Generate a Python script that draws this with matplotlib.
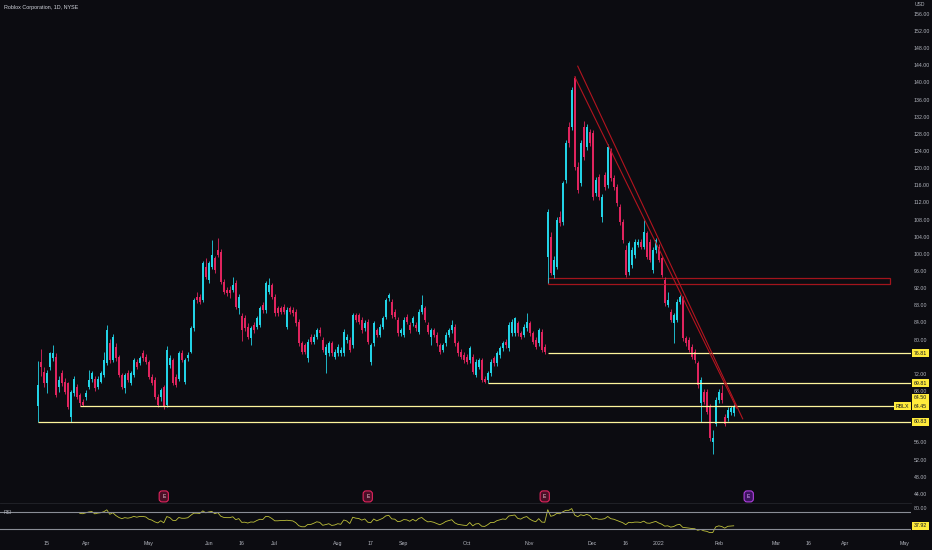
import numpy as np
import pandas as pd
import matplotlib
matplotlib.use('Agg')
import matplotlib.pyplot as plt
from matplotlib import font_manager
from matplotlib.patches import Rectangle
from matplotlib.transforms import blended_transform_factory

plt.rcParams['font.family'] = ['Liberation Sans', 'DejaVu Sans']

# daily candles, 2021-03-10 .. 2022-02-08 (one row of ten bars per line)
opens = [
    64.5, 74.8, 72.5, 69.8, 73.7, 75.6, 76.0, 69.0, 72.1, 70.2,
    69.8, 62.0, 67.5, 69.0, 67.1, 65.5, 66.7, 69.0, 70.9, 70.9,
    69.0, 70.2, 71.7, 74.5, 79.1, 75.2, 78.3, 76.0, 71.7, 68.6,
    72.1, 69.8, 71.7, 74.8, 74.5, 76.8, 76.0, 74.8, 71.3, 70.6,
    66.7, 66.7, 69.0, 64.7, 74.1, 75.2, 71.3, 70.9, 76.8, 70.2,
    75.6, 77.2, 82.6, 90.0, 90.0, 89.2, 97.0, 93.9, 97.0, 99.0,
    100.9, 100.5, 93.5, 91.6, 91.6, 91.6, 93.1, 87.3, 85.4, 85.0,
    83.0, 80.3, 83.4, 83.0, 83.4, 88.1, 86.9, 91.2, 92.7, 90.0,
    87.3, 87.3, 87.7, 83.0, 87.3, 86.9, 86.5, 84.2, 79.1, 78.7,
    75.6, 80.7, 79.5, 80.7, 82.2, 79.9, 76.4, 76.8, 79.1, 76.0,
    76.8, 76.8, 76.8, 79.9, 79.9, 78.7, 85.7, 85.7, 84.6, 82.6,
    84.2, 74.8, 79.1, 82.2, 81.1, 83.0, 85.3, 89.6, 88.8, 86.5,
    84.6, 81.5, 81.1, 85.3, 83.4, 83.8, 83.4, 81.8, 86.5, 87.3,
    83.4, 80.7, 82.2, 81.1, 78.7, 77.6, 79.1, 81.1, 82.2, 83.0,
    79.1, 77.2, 76.4, 76.0, 75.2, 76.0, 71.7, 73.7, 75.2, 70.9,
    70.6, 72.1, 75.6, 74.5, 76.4, 78.0, 79.5, 78.0, 81.5, 81.5,
    83.8, 81.5, 81.1, 82.6, 83.8, 81.5, 79.9, 79.1, 81.8, 78.3,
    99.3, 104.0, 95.1, 97.0, 108.7, 107.5, 117.2, 129.7, 129.7, 141.0,
    120.3, 116.5, 129.7, 125.0, 128.5, 128.1, 114.1, 118.0, 108.7, 118.4,
    116.1, 123.9, 117.6, 115.7, 111.0, 107.5, 101.0, 95.8, 97.4, 99.7,
    102.1, 102.8, 101.7, 104.8, 102.8, 96.2, 100.9, 101.7, 99.0, 93.9,
    88.1, 86.5, 83.8, 84.6, 88.8, 89.6, 80.3, 79.9, 78.3, 77.2,
    74.5, 65.1, 67.8, 67.8, 64.3, 56.0, 60.4, 65.9, 67.5, 62.0,
    61.6, 63.2, 62.8,
]
highs = [
    75.0, 77.9, 73.5, 72.8, 77.2, 78.7, 76.9, 71.6, 72.9, 71.0,
    70.1, 68.3, 71.5, 69.6, 67.6, 66.2, 68.2, 72.9, 72.6, 71.4,
    71.5, 72.6, 77.2, 83.4, 80.2, 81.4, 79.1, 76.5, 72.3, 72.2,
    72.8, 72.6, 75.7, 75.4, 76.1, 77.6, 76.6, 75.3, 71.9, 71.2,
    67.3, 68.8, 69.5, 78.4, 76.3, 75.8, 71.9, 77.3, 77.6, 75.7,
    77.0, 83.1, 89.8, 91.2, 90.6, 98.4, 99.0, 98.4, 103.2, 99.6,
    103.6, 101.1, 94.1, 92.3, 92.6, 94.7, 93.8, 90.6, 86.2, 85.8,
    83.8, 83.2, 84.2, 85.6, 87.9, 88.7, 93.7, 94.3, 93.3, 90.6,
    87.9, 87.9, 88.3, 87.5, 87.9, 87.5, 87.1, 84.8, 79.7, 79.3,
    80.1, 81.3, 81.3, 82.8, 82.9, 80.5, 78.9, 79.7, 79.7, 77.8,
    78.9, 78.2, 82.4, 81.3, 80.5, 86.3, 86.3, 86.3, 85.2, 84.6,
    84.8, 79.3, 84.4, 82.8, 83.6, 85.6, 89.8, 90.8, 89.4, 87.1,
    85.2, 82.8, 85.2, 85.9, 84.0, 85.6, 84.0, 87.1, 90.4, 87.9,
    84.0, 82.8, 82.8, 81.7, 79.3, 79.3, 81.7, 82.8, 84.6, 83.6,
    79.7, 77.8, 77.0, 76.6, 78.5, 76.6, 75.4, 75.8, 75.8, 71.5,
    72.7, 75.4, 76.2, 77.4, 78.5, 79.7, 80.1, 84.0, 84.8, 85.3,
    84.4, 82.1, 83.6, 86.1, 84.4, 82.1, 80.5, 82.8, 82.4, 78.9,
    110.5, 105.0, 99.4, 108.6, 110.0, 117.0, 126.5, 130.8, 138.9, 141.6,
    121.5, 126.5, 131.0, 130.4, 129.2, 129.0, 117.9, 118.7, 114.0, 119.1,
    125.7, 124.6, 118.3, 116.4, 111.7, 108.2, 102.0, 103.0, 101.5, 103.4,
    103.4, 103.4, 107.9, 105.4, 103.4, 101.5, 103.8, 102.3, 99.6, 94.5,
    91.0, 87.1, 86.3, 89.4, 90.4, 90.2, 80.9, 80.5, 78.9, 77.8,
    75.1, 71.2, 68.4, 68.4, 64.9, 59.0, 66.5, 68.4, 69.5, 62.6,
    64.2, 64.6, 65.0,
]
lows = [
    60.8, 71.5, 69.0, 67.5, 72.8, 74.9, 66.5, 67.8, 69.2, 67.2,
    63.8, 60.8, 66.9, 66.2, 64.6, 64.5, 65.8, 68.5, 70.2, 68.1,
    68.4, 69.8, 71.2, 74.0, 74.6, 74.8, 75.1, 71.2, 68.5, 67.5,
    70.1, 69.3, 71.2, 73.2, 74.0, 75.1, 74.3, 70.8, 69.3, 66.2,
    64.2, 65.6, 63.8, 64.2, 73.4, 69.3, 68.9, 70.4, 74.7, 69.6,
    75.0, 76.8, 82.0, 88.6, 88.2, 88.7, 94.1, 93.3, 96.5, 95.6,
    99.2, 93.0, 90.6, 90.2, 89.6, 91.0, 87.1, 86.0, 79.6, 82.0,
    80.1, 78.7, 81.6, 82.4, 82.9, 86.3, 86.3, 90.6, 89.4, 85.5,
    85.5, 85.9, 85.9, 82.4, 85.9, 85.5, 83.2, 78.5, 76.6, 76.6,
    74.8, 78.9, 78.9, 80.1, 80.9, 77.0, 72.1, 76.2, 76.2, 75.4,
    76.2, 76.2, 76.2, 79.3, 77.0, 78.1, 84.0, 83.6, 81.6, 82.0,
    78.9, 74.1, 78.5, 80.5, 80.5, 82.4, 84.7, 89.0, 85.1, 84.7,
    80.9, 80.9, 80.5, 83.6, 81.6, 83.2, 82.0, 81.2, 85.9, 84.0,
    81.2, 78.7, 80.5, 78.5, 76.6, 77.0, 78.5, 80.5, 81.6, 78.5,
    76.2, 75.4, 74.6, 74.2, 74.6, 71.9, 71.3, 73.1, 70.0, 69.8,
    69.8, 71.5, 73.9, 73.9, 75.8, 77.4, 78.1, 77.4, 80.9, 80.9,
    80.9, 80.1, 80.5, 82.0, 80.9, 78.9, 77.7, 78.5, 77.0, 76.6,
    93.3, 95.0, 94.4, 96.4, 106.4, 106.8, 116.6, 125.0, 129.0, 119.6,
    114.2, 115.8, 122.0, 124.3, 125.1, 112.6, 113.4, 112.6, 107.5, 115.0,
    115.4, 116.9, 115.0, 111.1, 106.8, 102.5, 94.7, 95.1, 96.8, 99.1,
    101.5, 101.1, 101.1, 98.7, 98.0, 95.6, 100.3, 98.0, 94.5, 87.9,
    87.5, 84.0, 79.1, 84.0, 88.2, 79.7, 78.5, 77.0, 75.4, 74.6,
    68.8, 60.8, 64.9, 62.6, 56.4, 53.4, 59.8, 65.3, 65.3, 59.8,
    61.0, 62.4, 62.2,
]
closes = [
    69.4, 73.7, 69.8, 72.1, 76.8, 76.8, 67.1, 70.6, 69.8, 67.8,
    64.3, 67.8, 70.9, 66.7, 65.1, 64.7, 67.5, 70.6, 72.1, 68.6,
    70.9, 72.1, 75.2, 82.2, 75.2, 80.7, 75.6, 71.7, 69.0, 71.7,
    70.6, 72.1, 75.2, 73.7, 75.6, 75.6, 74.8, 71.3, 69.8, 66.7,
    64.7, 68.2, 64.3, 77.6, 75.6, 69.8, 69.4, 76.8, 75.2, 75.2,
    76.4, 82.6, 89.2, 89.2, 88.8, 97.8, 94.7, 97.8, 99.7, 96.2,
    99.7, 93.5, 91.2, 90.8, 90.8, 92.7, 87.7, 90.0, 82.2, 82.6,
    80.7, 82.6, 82.2, 85.0, 87.3, 86.9, 93.1, 92.7, 90.0, 86.1,
    86.1, 86.5, 86.5, 86.9, 86.5, 86.1, 83.8, 79.1, 77.2, 77.2,
    79.5, 79.5, 80.7, 82.2, 81.5, 77.6, 78.3, 79.1, 76.8, 77.2,
    78.3, 77.6, 81.8, 80.7, 77.6, 85.7, 84.6, 84.2, 82.2, 83.8,
    79.5, 78.7, 83.8, 81.1, 83.0, 85.0, 89.2, 90.4, 85.7, 85.3,
    81.5, 82.2, 84.6, 84.2, 82.2, 85.0, 82.6, 86.5, 88.1, 84.6,
    81.8, 82.2, 81.1, 79.1, 77.2, 78.7, 81.1, 82.2, 83.4, 79.1,
    76.8, 76.0, 75.2, 74.8, 78.0, 72.5, 74.8, 75.2, 70.6, 70.2,
    72.1, 74.8, 74.5, 76.8, 78.0, 79.1, 78.7, 83.4, 84.2, 85.0,
    81.5, 80.7, 83.0, 84.2, 81.5, 79.5, 78.3, 82.2, 77.6, 77.2,
    109.8, 95.5, 98.6, 107.9, 107.1, 116.5, 125.8, 125.8, 138.2, 120.3,
    114.9, 125.8, 122.7, 129.7, 125.8, 113.3, 117.2, 113.3, 113.3, 115.7,
    125.0, 117.6, 115.7, 111.8, 107.5, 103.2, 95.0, 102.5, 100.9, 102.8,
    102.8, 101.7, 105.2, 99.3, 98.6, 100.9, 103.2, 98.6, 95.1, 88.5,
    89.2, 84.6, 85.7, 88.8, 90.0, 80.3, 79.1, 77.6, 76.0, 75.2,
    69.4, 70.6, 65.5, 63.2, 57.0, 57.1, 65.9, 67.8, 65.9, 60.4,
    63.6, 64.0, 64.45,
]

holidays = ['2021-04-02', '2021-05-31', '2021-07-05', '2021-09-06', '2021-11-25',
            '2021-12-24', '2022-01-17', '2022-02-21', '2022-04-15']
tick_dates = ['2021-03-15', '2021-04-01', '2021-05-03', '2021-06-01', '2021-06-16',
              '2021-07-01', '2021-08-02', '2021-08-17', '2021-09-01', '2021-10-01',
              '2021-11-01', '2021-12-01', '2021-12-16', '2022-01-03', '2022-02-01',
              '2022-03-01', '2022-03-16', '2022-04-01', '2022-05-02']
tick_labels = ['15', 'Apr', 'May', 'Jun', '16', 'Jul', 'Aug', '17', 'Sep', 'Oct',
               'Nov', 'Dec', '16', '2022', 'Feb', 'Mar', '16', 'Apr', 'May']
earnings_dates = ['2021-05-10', '2021-08-16', '2021-11-08', '2022-02-15']

# drawn levels
level_prices = [76.81, 69.81, 64.50, 60.83]
level_starts = ['2021-11-09', '2021-10-12', '2021-03-30', '2021-03-10']
zone_dates = ['2021-11-09', '2022-04-25']
zone_prices = [92.9, 94.3]
trend_outer = [('2021-11-23', 143.8), ('2022-02-11', 61.5)]
trend_inner = [('2021-11-22', 141.3), ('2022-02-09', 64.0)]
rsi_last = 37.92

assert len(opens) == len(highs) == len(lows) == len(closes) == 233

dates = pd.bdate_range('2021-03-10', '2022-06-30', freq='C', holidays=holidays)
def pos(d):
    return dates.get_loc(pd.Timestamp(d))

# axis labels: narrow face if the system has one
installed = {f.name for f in font_manager.fontManager.ttflist}
if 'Liberation Sans Narrow' in installed:
    AX_FONT, FS = 'Liberation Sans Narrow', 4.5
else:
    AX_FONT, FS = 'Liberation Sans', 3.8

BG = '#0c0c11'
UP = '#22d3e6'
DOWN = '#e0245e'
YEL = '#fff59d'
TXT = '#b2b5be'

W, H = 932, 550
fig = plt.figure(figsize=(W / 100, H / 100), dpi=100, facecolor=BG)
ax = fig.add_axes([0, 47 / H, 911 / W, 503 / H], facecolor=BG)
ax_rsi = fig.add_axes([0, 13 / H, 911 / W, 34 / H], facecolor=BG)

XMIN, XMAX = -12.6, 291.1
o = np.array(opens); h = np.array(highs); l = np.array(lows); c = np.array(closes)
x = np.arange(len(c))
cols = np.where(c >= o, UP, DOWN)

# candles
ax.vlines(x, l, h, colors=cols, lw=0.6)
body = np.maximum(np.abs(c - o), 0.15)
ax.bar(x, body, bottom=np.minimum(o, c), width=0.62, color=cols, linewidth=0)

# horizontal levels
for p, s in zip(level_prices, level_starts):
    ax.hlines(p, pos(s), XMAX, color=YEL, lw=0.9)

ax.add_patch(Rectangle((pos(zone_dates[0]), zone_prices[0]),
                       pos(zone_dates[1]) - pos(zone_dates[0]),
                       zone_prices[1] - zone_prices[0],
                       fill=False, ec='#a3141c', lw=0.9))
for tl in (trend_outer, trend_inner):
    ax.plot([pos(tl[0][0]), pos(tl[1][0])], [tl[0][1], tl[1][1]],
            color='#b3141f', lw=0.8)

# earnings badges
for i, d in enumerate(earnings_dates):
    last = i == len(earnings_dates) - 1
    ax.text(pos(d), 43.4, 'E', fontsize=3.6, color='#f0d0dc' if not last else '#e0b0ff',
            ha='center', va='center',
            bbox=dict(boxstyle='round,pad=0.6', fc='#4a0f26' if not last else '#3d1260',
                      ec='#e0245e' if not last else '#b040e0', lw=0.8))

ax.set_xlim(XMIN, XMAX)
ax.set_ylim(41.86, 159.24)
ax.set_xticks([])
ax.yaxis.tick_right()
yt = [v for v in range(44, 157, 4) if v not in (60, 64, 76)]
ax.set_yticks(yt)
ax.set_yticklabels([f'{v:.2f}' for v in yt], fontfamily=AX_FONT)
ax.tick_params(axis='y', length=0, pad=2, labelsize=FS, colors=TXT)
for sp in ax.spines.values():
    sp.set_visible(False)

trans = blended_transform_factory(ax.transAxes, ax.transData)
ybox = dict(boxstyle='square,pad=0.3', fc='#ffeb3b', ec='none')
label_pos = [(76.81, '76.81'), (69.81, '69.81'), (66.4, '64.50'), (64.45, '64.45'), (60.83, '60.83')]
for p, t in label_pos:
    ax.text(1 + 3 / 911, p, t, transform=trans, fontsize=FS, fontfamily=AX_FONT,
            color='#131722', ha='left', va='center', bbox=ybox, clip_on=False)
ax.text(1 - 2 / 911, 64.45, 'RBLX', transform=trans, fontsize=FS, fontfamily=AX_FONT,
        color='#131722', ha='right', va='center', bbox=ybox, clip_on=False)

fig.text(4 / W, 1 - 7 / H, 'Roblox Corporation, 1D, NYSE', fontsize=3.9, color='#d1d4dc',
         ha='left', va='center')
fig.text(920 / W, 1 - 5 / H, 'USD', fontsize=3.6, fontfamily=AX_FONT, color=TXT,
         ha='center', va='center')

# RSI pane
s = pd.Series(closes)
diff = s.diff()
gain = diff.clip(lower=0).ewm(alpha=1 / 14, adjust=False, min_periods=14).mean()
loss = (-diff.clip(upper=0)).ewm(alpha=1 / 14, adjust=False, min_periods=14).mean()
rsi = 100 - 100 / (1 + gain / loss)

ax_rsi.plot(x, rsi, color='#bdbf3a', lw=0.6)
ax_rsi.axhline(70, color='#8a8d96', lw=0.8)
ax_rsi.axhline(30, color='#8a8d96', lw=0.8)
ax_rsi.set_xlim(XMIN, XMAX)
ax_rsi.set_ylim(11.2, 91.2)
ax_rsi.yaxis.tick_right()
ax_rsi.set_yticks([80])
ax_rsi.set_yticklabels(['80.00'], fontfamily=AX_FONT)
ax_rsi.tick_params(axis='y', length=0, pad=2, labelsize=FS, colors=TXT)
ax_rsi.set_xticks([pos(d) for d in tick_dates])
ax_rsi.set_xticklabels(tick_labels, fontfamily=AX_FONT)
ax_rsi.tick_params(axis='x', length=0, pad=3, labelsize=FS, colors=TXT)
for sp in ax_rsi.spines.values():
    sp.set_visible(False)
ax_rsi.spines['top'].set_visible(True)
ax_rsi.spines['top'].set_color('#23242b')
ax_rsi.spines['top'].set_linewidth(0.6)
ax_rsi.text(0.004, 0.72, 'RSI', transform=ax_rsi.transAxes, fontsize=3.6, color=TXT,
            fontfamily=AX_FONT, ha='left', va='center')
rtrans = blended_transform_factory(ax_rsi.transAxes, ax_rsi.transData)
ax_rsi.text(1 + 3 / 911, rsi_last, f'{rsi_last:.2f}', transform=rtrans, fontsize=FS,
            fontfamily=AX_FONT, color='#131722', ha='left', va='center', bbox=ybox,
            clip_on=False)

fig.savefig('out.png', dpi=100, facecolor=BG)
